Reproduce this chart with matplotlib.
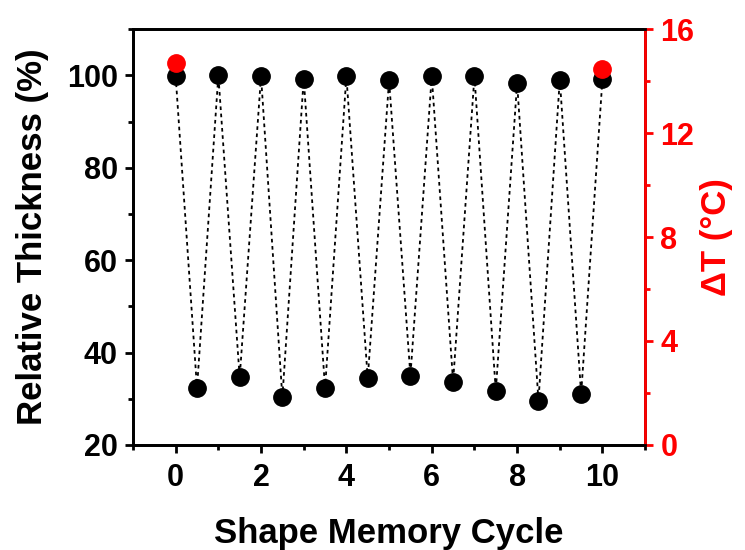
import matplotlib.pyplot as plt
import numpy as np
from matplotlib.ticker import MultipleLocator

# shape memory cycles (half steps = compressed state)
cycle = [0, 0.5, 1, 1.5, 2, 2.5, 3, 3.5, 4, 4.5, 5, 5.5, 6, 6.5, 7, 7.5, 8, 8.5, 9, 9.5, 10]
thickness = [99.8, 32.3, 100.0, 34.6, 99.8, 30.3, 99.3, 32.3, 99.8, 34.4, 98.9,
             35.0, 99.8, 33.7, 99.8, 31.7, 98.3, 29.6, 99.1, 31.0, 99.3]
dt_cycle = [0, 10]
delta_t = [14.7, 14.45]

plt.rcParams['font.family'] = ['Liberation Sans', 'DejaVu Sans']
plt.rcParams['font.weight'] = 'bold'

fig = plt.figure(figsize=(7.45, 5.5), dpi=100)
ax = fig.add_axes([0.1785, 0.191, 0.6875, 0.756])

ax.plot(cycle, thickness, ls=(0, (2, 2)), color='black', lw=1.3, zorder=1)
ax.plot(cycle, thickness, 'o', color='black', ms=12.5, zorder=2)

ax.set_xlim(-1, 11)
ax.set_ylim(20, 110)
ax.xaxis.set_major_locator(MultipleLocator(2))
ax.xaxis.set_minor_locator(MultipleLocator(1))
ax.yaxis.set_major_locator(MultipleLocator(20))
ax.yaxis.set_minor_locator(MultipleLocator(10))
ax.set_xlabel('Shape Memory Cycle', fontsize=25, fontweight='bold', labelpad=17)
ax.set_ylabel('Relative Thickness (%)', fontsize=25, fontweight='bold', labelpad=13)
ax.tick_params(which='major', direction='out', length=6, width=2, labelsize=22, pad=5)
ax.tick_params(axis='x', which='major', pad=7)
ax.tick_params(which='minor', direction='out', length=3.5, width=2)
for s in ax.spines.values():
    s.set_linewidth(2)

ax2 = ax.twinx()
ax2.plot(dt_cycle, delta_t, 'o', color='red', ms=12.5, zorder=3)
ax2.set_ylim(0, 16)
ax2.yaxis.set_major_locator(MultipleLocator(4))
ax2.yaxis.set_minor_locator(MultipleLocator(2))
ax2.set_ylabel('ΔT (°C)', color='red', fontsize=25, fontweight='bold', labelpad=4)
ax2.tick_params(which='major', direction='out', length=6, width=2, labelsize=22,
                colors='red', pad=5)
ax2.tick_params(which='minor', direction='out', length=3.5, width=2, colors='red')
for s in ax2.spines.values():
    s.set_linewidth(2)
ax2.spines['right'].set_color('red')

fig.savefig('out.png', dpi=100)
